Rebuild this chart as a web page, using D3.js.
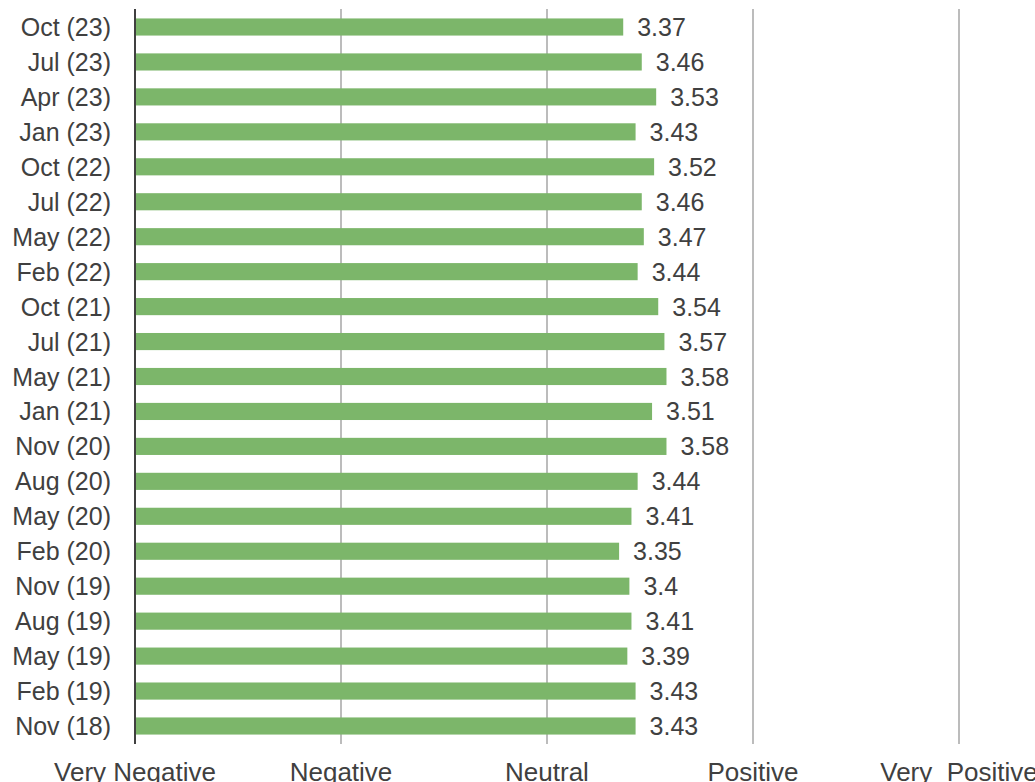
<!DOCTYPE html>
<html>
<head>
<meta charset="utf-8">
<script src="https://cdn.jsdelivr.net/npm/d3@7"></script>
<style>
  html, body { margin: 0; padding: 0; background: #fff; }
  svg { display: block; }
  text { font-family: "Liberation Sans", Arial, sans-serif; fill: #404040; }
</style>
</head>
<body>
<svg id="chart" width="1035" height="782"></svg>
<script>
const categories = ["Oct (23)", "Jul (23)", "Apr (23)", "Jan (23)", "Oct (22)", "Jul (22)", "May (22)", "Feb (22)",
  "Oct (21)", "Jul (21)", "May (21)", "Jan (21)", "Nov (20)", "Aug (20)", "May (20)", "Feb (20)",
  "Nov (19)", "Aug (19)", "May (19)", "Feb (19)", "Nov (18)"];
const values = [3.37, 3.46, 3.53, 3.43, 3.52, 3.46, 3.47, 3.44, 3.54, 3.57, 3.58, 3.51, 3.58, 3.44, 3.41, 3.35,
  3.4, 3.41, 3.39, 3.43, 3.43];
const tickValues = [1, 2, 3, 4, 5];
const tickLabels = ["Very Negative", "Negative", "Neutral", "Positive", "Very\u00A0\u00A0Positive"];

const svg = d3.select("#chart");
const x = d3.scaleLinear().domain([1, 5]).range([135, 959]);
const y = d3.scaleBand().domain(categories).range([9, 744]).paddingInner(0.51).paddingOuter(0.27);

// gridlines
svg.append("g").selectAll("line").data(tickValues.slice(1)).join("line")
  .attr("x1", d => x(d)).attr("x2", d => x(d))
  .attr("y1", 9).attr("y2", 744)
  .attr("stroke", "#a6a6a6").attr("stroke-width", 1.5);

// bars
svg.append("g").selectAll("rect").data(values).join("rect")
  .attr("x", x(1) + 1)
  .attr("y", (d, i) => y(categories[i]))
  .attr("width", d => x(d) - x(1) - 1)
  .attr("height", y.bandwidth())
  .attr("fill", "#7cb66a");

// axis line
svg.append("line")
  .attr("x1", x(1)).attr("x2", x(1)).attr("y1", 9).attr("y2", 744)
  .attr("stroke", "#404040").attr("stroke-width", 2);

// value labels
svg.append("g").selectAll("text").data(values).join("text")
  .attr("x", d => x(d) + 14)
  .attr("y", (d, i) => y(categories[i]) + y.bandwidth() / 2)
  .attr("dy", "0.36em")
  .attr("font-size", 25)
  .text(d => d);

// category labels
svg.append("g").selectAll("text").data(categories).join("text")
  .attr("x", x(1) - 24)
  .attr("y", d => y(d) + y.bandwidth() / 2)
  .attr("dy", "0.36em")
  .attr("text-anchor", "end")
  .attr("font-size", 25)
  .text(d => d);

// bottom tick labels
svg.append("g").selectAll("text").data(tickValues).join("text")
  .attr("x", d => x(d))
  .attr("y", 781)
  .attr("text-anchor", "middle")
  .attr("font-size", 26)
  .text((d, i) => tickLabels[i]);
</script>
</body>
</html>
